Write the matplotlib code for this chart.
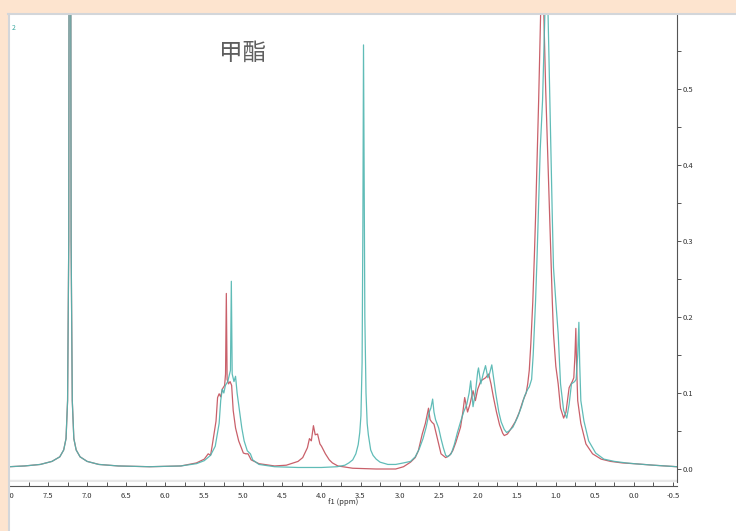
import numpy as np
import matplotlib
matplotlib.use("Agg")
import matplotlib.pyplot as plt
from matplotlib.patches import Rectangle
from matplotlib.ticker import MultipleLocator, FormatStrFormatter

plt.rcParams['font.family'] = ['Noto Sans CJK SC', 'DejaVu Sans']

# spectrum traces: (ppm, intensity)
red_ppm = [8.00, 7.80, 7.60, 7.45, 7.35, 7.30, 7.27, 7.25, 7.235, 7.228, 7.22, 7.212, 7.205,
           7.19, 7.17, 7.14, 7.09, 7.00, 6.85, 6.60, 6.20, 5.80, 5.60, 5.50, 5.45, 5.42,
           5.40, 5.37, 5.35, 5.33, 5.31, 5.29, 5.27, 5.24, 5.228, 5.218, 5.208, 5.19, 5.17,
           5.15, 5.13, 5.10, 5.06, 5.00, 4.97, 4.94, 4.90, 4.80, 4.60, 4.45, 4.36, 4.30,
           4.24, 4.18, 4.154, 4.13, 4.103, 4.08, 4.05, 4.02, 4.00, 3.95, 3.90, 3.86, 3.79,
           3.60, 3.30, 3.05, 2.95, 2.86, 2.80, 2.76, 2.71, 2.67, 2.65, 2.63, 2.61, 2.59,
           2.56, 2.51, 2.47, 2.41, 2.36, 2.32, 2.28, 2.25, 2.22, 2.19, 2.167, 2.13, 2.10,
           2.06, 2.03, 2.00, 1.96, 1.93, 1.90, 1.86, 1.83, 1.80, 1.76, 1.72, 1.68, 1.66,
           1.62, 1.58, 1.52, 1.47, 1.42, 1.38, 1.36, 1.34, 1.32, 1.295, 1.275, 1.26, 1.24,
           1.22, 1.19, 1.167, 1.154, 1.13, 1.115, 1.10, 1.08, 1.06, 1.045, 1.03, 1.00, 0.97,
           0.94, 0.90, 0.87, 0.83, 0.79, 0.77, 0.755, 0.744, 0.735, 0.72, 0.68, 0.615, 0.53,
           0.42, 0.30, 0.15, 0.00, -0.25, -0.55]
red_int = [0.003, 0.004, 0.006, 0.010, 0.016, 0.025, 0.040, 0.090, 0.30, 0.90, 1.50, 0.90, 0.30,
           0.090, 0.040, 0.025, 0.016, 0.010, 0.006, 0.004, 0.003, 0.004, 0.008, 0.013, 0.020, 0.018,
           0.030, 0.050, 0.063, 0.094, 0.099, 0.095, 0.105, 0.110, 0.125, 0.231, 0.118, 0.112, 0.115,
           0.110, 0.077, 0.054, 0.037, 0.021, 0.020, 0.020, 0.012, 0.007, 0.004, 0.005, 0.008, 0.010,
           0.015, 0.028, 0.040, 0.037, 0.057, 0.045, 0.046, 0.033, 0.030, 0.020, 0.012, 0.008, 0.004,
           0.001, 0.000, 0.000, 0.003, 0.009, 0.015, 0.024, 0.046, 0.060, 0.070, 0.080, 0.065, 0.062,
           0.059, 0.037, 0.020, 0.015, 0.018, 0.024, 0.035, 0.045, 0.055, 0.075, 0.094, 0.075, 0.085,
           0.103, 0.090, 0.105, 0.116, 0.118, 0.120, 0.125, 0.112, 0.095, 0.075, 0.058, 0.047, 0.044,
           0.046, 0.052, 0.062, 0.074, 0.090, 0.100, 0.112, 0.130, 0.165, 0.22, 0.28, 0.33, 0.41,
           0.485, 0.62, 0.90, 0.60, 0.50, 0.45, 0.40, 0.33, 0.265, 0.22, 0.178, 0.135, 0.112,
           0.080, 0.067, 0.075, 0.107, 0.115, 0.120, 0.150, 0.185, 0.140, 0.090, 0.060, 0.033, 0.020,
           0.013, 0.010, 0.008, 0.007, 0.005, 0.003]

teal_ppm = [8.00, 7.80, 7.60, 7.45, 7.35, 7.30, 7.27, 7.25, 7.235, 7.228, 7.22, 7.212, 7.205,
            7.19, 7.17, 7.14, 7.09, 7.00, 6.85, 6.60, 6.20, 5.80, 5.60, 5.50, 5.42, 5.36,
            5.31, 5.29, 5.27, 5.25, 5.23, 5.20, 5.165, 5.154, 5.143, 5.12, 5.10, 5.08, 5.05,
            5.02, 4.99, 4.95, 4.91, 4.88, 4.80, 4.60, 4.30, 4.00, 3.80, 3.70, 3.65, 3.60,
            3.56, 3.53, 3.51, 3.495, 3.48, 3.47, 3.462, 3.455, 3.445, 3.43, 3.415, 3.40, 3.37,
            3.34, 3.30, 3.25, 3.15, 3.05, 2.95, 2.86, 2.80, 2.75, 2.70, 2.66, 2.62, 2.60,
            2.577, 2.56, 2.54, 2.50, 2.47, 2.44, 2.41, 2.385, 2.34, 2.30, 2.26, 2.22, 2.18,
            2.14, 2.11, 2.09, 2.06, 2.03, 2.00, 1.99, 1.96, 1.93, 1.90, 1.87, 1.85, 1.82,
            1.79, 1.77, 1.73, 1.70, 1.66, 1.63, 1.60, 1.55, 1.49, 1.44, 1.40, 1.36, 1.34,
            1.31, 1.29, 1.26, 1.24, 1.22, 1.20, 1.17, 1.14, 1.125, 1.10, 1.08, 1.06, 1.045,
            1.03, 1.00, 0.97, 0.94, 0.90, 0.86, 0.83, 0.80, 0.76, 0.74, 0.72, 0.705, 0.695,
            0.68, 0.64, 0.58, 0.49, 0.385, 0.25, 0.10, 0.00, -0.25, -0.55]
teal_int = [0.003, 0.004, 0.006, 0.010, 0.016, 0.025, 0.040, 0.090, 0.30, 0.90, 1.50, 0.90, 0.30,
            0.090, 0.040, 0.025, 0.016, 0.010, 0.006, 0.004, 0.003, 0.004, 0.007, 0.011, 0.018, 0.030,
            0.060, 0.090, 0.105, 0.100, 0.110, 0.115, 0.130, 0.247, 0.125, 0.115, 0.122, 0.100, 0.077,
            0.054, 0.037, 0.024, 0.020, 0.012, 0.006, 0.003, 0.002, 0.002, 0.003, 0.005, 0.008, 0.012,
            0.020, 0.032, 0.048, 0.070, 0.140, 0.320, 0.558, 0.400, 0.200, 0.100, 0.060, 0.045, 0.025,
            0.018, 0.013, 0.009, 0.006, 0.006, 0.008, 0.010, 0.016, 0.026, 0.040, 0.055, 0.075, 0.080,
            0.092, 0.075, 0.065, 0.054, 0.040, 0.028, 0.018, 0.016, 0.020, 0.032, 0.048, 0.062, 0.075,
            0.085, 0.100, 0.116, 0.082, 0.100, 0.128, 0.133, 0.112, 0.125, 0.136, 0.120, 0.125, 0.137,
            0.115, 0.100, 0.075, 0.062, 0.052, 0.048, 0.050, 0.055, 0.068, 0.082, 0.096, 0.105, 0.108,
            0.118, 0.150, 0.22, 0.28, 0.35, 0.42, 0.485, 0.60, 0.90, 0.60, 0.50, 0.40, 0.33,
            0.265, 0.22, 0.178, 0.112, 0.077, 0.067, 0.085, 0.112, 0.115, 0.118, 0.150, 0.193, 0.140,
            0.090, 0.063, 0.037, 0.021, 0.013, 0.010, 0.008, 0.007, 0.005, 0.003]

x_ticks = [8.0, 7.5, 7.0, 6.5, 6.0, 5.5, 5.0, 4.5, 4.0, 3.5, 3.0, 2.5, 2.0, 1.5, 1.0, 0.5, 0.0, -0.5]
y_ticks = [0.0, 0.1, 0.2, 0.3, 0.4, 0.5]

W, H = 736, 531
fig = plt.figure(figsize=(W / 100, H / 100), dpi=100)
fig.patch.set_facecolor('white')

ax = fig.add_axes([9 / W, 1 - 482 / H, 668 / W, 468 / H])
ax.plot(red_ppm, red_int, color='#c9606a', lw=0.9)
ax.plot(teal_ppm, teal_int, color='#4fb5b0', lw=0.9, alpha=0.9)
ax.set_xlim(8.0, -0.551)
ax.set_ylim((469 - 482) / 760, (469 - 14) / 760)
ax.axhline((469 - 481) / 760, color='#e8e8e8', lw=2.5, zorder=0)

ax.spines['top'].set_visible(False)
ax.spines['left'].set_visible(False)
ax.spines['right'].set_color('#555555')
ax.spines['bottom'].set_color('#555555')
ax.spines['bottom'].set_position(('outward', 3))
ax.yaxis.tick_right()
ax.set_xticks(x_ticks)
ax.xaxis.set_minor_locator(MultipleLocator(0.25))
ax.xaxis.set_major_formatter(FormatStrFormatter('%.1f'))
ax.set_yticks(y_ticks)
ax.yaxis.set_minor_locator(MultipleLocator(0.05))
ax.yaxis.set_major_formatter(FormatStrFormatter('%.1f'))
ax.tick_params(axis='x', which='both', direction='in', length=3, width=0.7, colors='#555555',
               labelsize=5.5, labelcolor='#333333', pad=4)
ax.tick_params(axis='y', which='both', direction='out', length=3, width=0.7, colors='#555555',
               labelsize=5.5, labelcolor='#333333', pad=1)
ax.set_xlabel('f1 (ppm)', fontsize=5.5, color='#333333', labelpad=-1)

# panel frame
fig.add_artist(Rectangle((0, 1 - 13 / H), 1, 13 / H, transform=fig.transFigure,
                         facecolor='#fde4cf', edgecolor='none', zorder=5))
fig.add_artist(Rectangle((0, 0), 8 / W, 1, transform=fig.transFigure,
                         facecolor='#fde4cf', edgecolor='none', zorder=5))
fig.add_artist(plt.Line2D([8 / W, 1], [1 - 13.5 / H, 1 - 13.5 / H], transform=fig.transFigure,
                          color='#d3d6da', lw=1.5, zorder=6))
fig.add_artist(plt.Line2D([8.5 / W, 8.5 / W], [0, 1 - 13.5 / H], transform=fig.transFigure,
                          color='#d3d6da', lw=1.5, zorder=6))

fig.text(12 / W, 1 - 28 / H, '2', fontsize=5, color='#3aa8a0', va='center', ha='left')
fig.text(243 / W, 1 - 53 / H, '甲酯', fontsize=17, color='#5e5e5e', va='center', ha='center')

fig.savefig('out.png', dpi=100)
